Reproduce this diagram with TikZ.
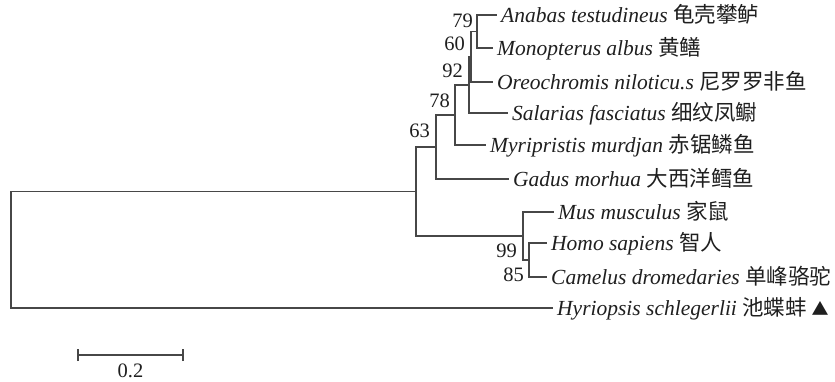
\documentclass[tikz,border=0pt]{standalone}
\usepackage{fontspec}
\setmainfont{Liberation Serif}
\newfontfamily\cjk{Noto Sans CJK SC}
\newcommand{\taxon}[2]{\textit{#1} {\cjk #2}}

\begin{document}
\begin{tikzpicture}[x=1pt,y=-1pt,
  branch/.style={draw=black!72, line width=1.3pt},
  leaf/.style={anchor=west, inner xsep=4pt, inner ysep=0pt, text height=14pt, text depth=0pt,
    font=\fontsize{21.5}{21.5}\selectfont, text=black!88},
  boot/.style={anchor=east, inner sep=0pt, font=\fontsize{20.5}{20.5}\selectfont, text=black!88}]
\useasboundingbox (0,0) rectangle (835,381);

% leaves (west anchor = end of the terminal branch)
\node[leaf] (A) at (497,15)  {\taxon{Anabas testudineus}{龟壳攀鲈}};
\node[leaf] (B) at (493,48)  {\taxon{Monopterus albus}{黄鳝}};
\node[leaf] (C) at (493,82)  {\taxon{Oreochromis niloticu.s}{尼罗罗非鱼}};
\node[leaf] (D) at (508,113) {\taxon{Salarias fasciatus}{细纹凤鳚}};
\node[leaf] (E) at (486,145) {\taxon{Myripristis murdjan}{赤锯鳞鱼}};
\node[leaf] (F) at (509,179) {\taxon{Gadus morhua}{大西洋鳕鱼}};
\node[leaf] (G) at (554,212) {\taxon{Mus musculus}{家鼠}};
\node[leaf] (H) at (547,243) {\taxon{Homo sapiens}{智人}};
\node[leaf] (I) at (547,277) {\taxon{Camelus dromedaries}{单峰骆驼}};
\node[leaf] (J) at (553,308) {\taxon{Hyriopsis schlegerlii}{池蝶蚌 {\fontsize{17}{17}\selectfont ▲}}};

% internal nodes
\coordinate (n79) at (477,31.5);
\coordinate (n60) at (471,56.75);
\coordinate (n92) at (469,84.9);
\coordinate (n78) at (455,115);
\coordinate (n63) at (436,147);
\coordinate (n99) at (523,236);
\coordinate (n85) at (529,260);
\coordinate (nin) at (416,191.5);
\coordinate (root) at (11,249.75);

% branches
\draw[branch] (n79) |- (A.west) (n79) |- (B.west);
\draw[branch] (n60) |- (n79) (n60) |- (C.west);
\draw[branch] (n92) |- (n60) (n92) |- (D.west);
\draw[branch] (n78) |- (n92) (n78) |- (E.west);
\draw[branch] (n63) |- (n78) (n63) |- (F.west);
\draw[branch] (n85) |- (H.west) (n85) |- (I.west);
\draw[branch] (n99) |- (G.west) (n99) |- (n85);
\draw[branch] (nin) |- (n63) (nin) |- (n99);
\draw[branch] (root) |- (nin) (root) |- (J.west);

% bootstrap values
\node[boot] (b79) at (473,20.5) {79};
\node[boot] (b60) at (465,43.5) {60};
\node[boot] (b92) at (463,71) {92};
\node[boot] (b78) at (450,101) {78};
\node[boot] (b63) at (430,131) {63};
\node[boot] (b99) at (517,251) {99};
\node[boot] (b85) at (524,274.5) {85};

% scale bar
\coordinate (sL) at (78,355);
\coordinate (sR) at (183,355);
\draw[branch] (sL) -- (sR);
\draw[branch] ([yshift=-6pt]sL) -- ([yshift=6pt]sL);
\draw[branch] ([yshift=-6pt]sR) -- ([yshift=6pt]sR);
\node[inner sep=0pt, font=\fontsize{20.5}{20.5}\selectfont, text=black!88] (sc) at (130.5,370.5) {0.2};
\end{tikzpicture}
\end{document}
